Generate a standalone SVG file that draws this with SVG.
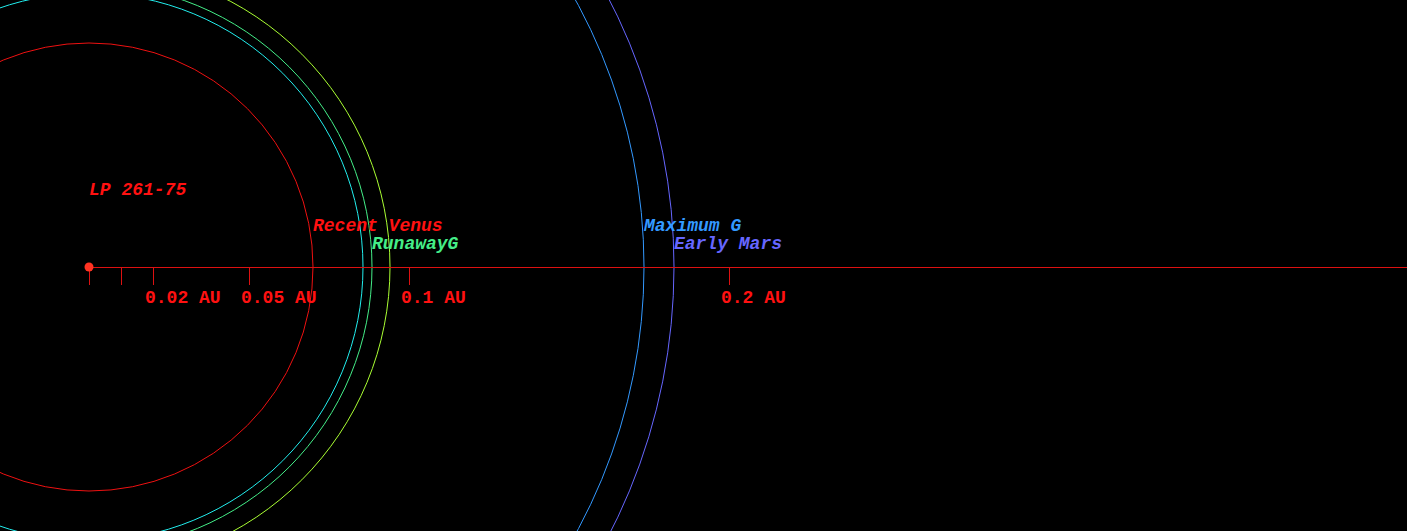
<svg xmlns="http://www.w3.org/2000/svg" width="1407" height="531" viewBox="0 0 1407 531">
<style>
.orbit{fill:none;stroke-width:1}
.lbl{font-family:"Liberation Mono","Courier New",monospace;font-size:18px;font-weight:bold;font-style:italic}
.ax{font-family:"Liberation Mono","Courier New",monospace;font-size:18px;font-weight:bold;fill:#ff1111}
.tick{stroke:#dd1111;stroke-width:1}
</style>
<rect x="0" y="0" width="1407" height="531" fill="#000"/>
<g id="orbits">
<circle id="recent-venus" class="orbit" cx="89" cy="267" r="224" stroke="#ee1111"/>
<circle id="runaway-cyan" class="orbit" cx="89" cy="267" r="274" stroke="#22eeee"/>
<circle id="runaway-green" class="orbit" cx="89" cy="267" r="283" stroke="#44ee88"/>
<circle id="runaway-yellow" class="orbit" cx="89" cy="267" r="301" stroke="#aaff33"/>
<circle id="maximum-g" class="orbit" cx="89" cy="267" r="555" stroke="#3399ff"/>
<circle id="early-mars" class="orbit" cx="89" cy="267" r="585" stroke="#6666ff"/>
</g>
<g id="axis">
<line x1="89" y1="267.5" x2="1407" y2="267.5" stroke="#dd1111"/>
<line class="tick" x1="89.5" y1="267" x2="89.5" y2="285"/>
<line class="tick" x1="121.5" y1="267" x2="121.5" y2="285"/>
<line class="tick" x1="153.5" y1="267" x2="153.5" y2="285"/>
<line class="tick" x1="249.5" y1="267" x2="249.5" y2="285"/>
<line class="tick" x1="409.5" y1="267" x2="409.5" y2="285"/>
<line class="tick" x1="729.5" y1="267" x2="729.5" y2="285"/>
<text class="ax" x="145" y="303">0.02 AU</text>
<text class="ax" x="241" y="303">0.05 AU</text>
<text class="ax" x="401" y="303">0.1 AU</text>
<text class="ax" x="721" y="303">0.2 AU</text>
</g>
<g id="star">
<circle cx="89" cy="267" r="4.5" fill="#ff3322"/>
<text class="lbl" x="89" y="195" fill="#ff1111">LP 261-75</text>
</g>
<g id="labels">
<text class="lbl" x="313" y="231" fill="#ff1111">Recent Venus</text>
<text class="lbl" x="372" y="249" fill="#44ee88">RunawayG</text>
<text class="lbl" x="644" y="231" fill="#3399ff">Maximum G</text>
<text class="lbl" x="674" y="249" fill="#6666ff">Early Mars</text>
</g>
</svg>
